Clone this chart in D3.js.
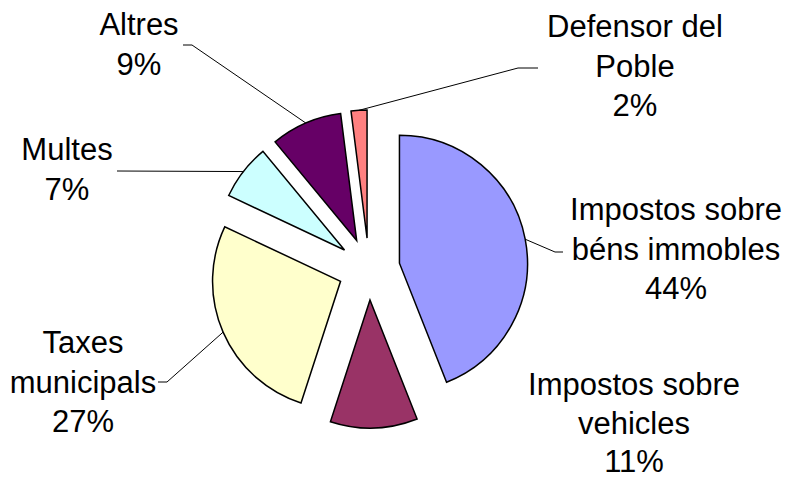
<!DOCTYPE html>
<html>
<head>
<meta charset="utf-8">
<script src="https://cdn.jsdelivr.net/npm/d3@7"></script>
<style>
  html, body { margin: 0; padding: 0; background: #fff; }
  svg { display: block; }
  text { font-family: "Liberation Sans", Arial, sans-serif; fill: #000; }
</style>
</head>
<body>
<svg id="chart" width="788" height="479"></svg>
<script>
// ---- Data ----
const categories = [
  "Impostos sobre béns immobles",
  "Impostos sobre vehicles",
  "Taxes municipals",
  "Multes",
  "Altres",
  "Defensor del Poble"
];
const values = [44, 11, 27, 7, 9, 2];
const percentLabels = ["44%", "11%", "27%", "7%", "9%", "2%"];
const colors = ["#9999FF", "#993366", "#FFFFCC", "#CCFFFF", "#660066", "#FF8080"];
// label line breaks
const labelLines = [
  ["Impostos sobre", "béns immobles"],
  ["Impostos sobre", "vehicles"],
  ["Taxes", "municipals"],
  ["Multes"],
  ["Altres"],
  ["Defensor del", "Poble"]
];

// ---- Layout (positions only) ----
const cx = 369, cy = 269, radius = 128, explode = 31;
const fontSize = 31, lineGap = 39.5;
const labelLayout = [
  { x: 676, y: 220, gap: lineGap, leader: [[555, 252], [563, 252]] },
  { x: 634, y: 395, gap: 38.5, leader: null },
  { x: 83,  y: 353, gap: lineGap, leader: [[167, 382], [158, 382]] },
  { x: 67,  y: 160, gap: lineGap, leader: [[117, 171]] },
  { x: 139, y: 35,  gap: lineGap, leader: [[192, 45], [183, 45]] },
  { x: 635, y: 37,  gap: lineGap, leader: [[518, 68], [538, 68]] }
];

const svg = d3.select("#chart");
const g = svg.append("g").attr("transform", `translate(${cx},${cy})`);

const pie = d3.pie().sort(null).value(d => d).startAngle(0).endAngle(2 * Math.PI);
const arcs = pie(values);
const arc = d3.arc().innerRadius(0).outerRadius(radius);

function offsetOf(a) {
  const mid = (a.startAngle + a.endAngle) / 2;
  return [explode * Math.sin(mid), -explode * Math.cos(mid)];
}

g.selectAll("path.slice")
  .data(arcs)
  .join("path")
  .attr("class", "slice")
  .attr("transform", d => { const o = offsetOf(d); return `translate(${o[0]},${o[1]})`; })
  .attr("d", arc)
  .attr("fill", (d, i) => colors[i])
  .attr("stroke", "#000")
  .attr("stroke-width", 1.5)
  .attr("stroke-linejoin", "miter");

// Leader lines
arcs.forEach((a, i) => {
  const L = labelLayout[i];
  if (!L.leader) return;
  const mid = (a.startAngle + a.endAngle) / 2;
  const o = offsetOf(a);
  const ax = cx + o[0] + radius * Math.sin(mid);
  const ay = cy + o[1] - radius * Math.cos(mid);
  const pts = [[ax, ay]].concat(L.leader);
  svg.append("path")
    .attr("d", d3.line()(pts))
    .attr("fill", "none")
    .attr("stroke", "#000")
    .attr("stroke-width", 1);
});

// Labels
arcs.forEach((a, i) => {
  const L = labelLayout[i];
  const lines = labelLines[i].concat([percentLabels[i]]);
  const t = svg.append("text")
    .attr("text-anchor", "middle")
    .attr("font-size", fontSize);
  lines.forEach((s, k) => {
    t.append("tspan").attr("x", L.x).attr("y", L.y + k * L.gap).text(s);
  });
});
</script>
</body>
</html>
